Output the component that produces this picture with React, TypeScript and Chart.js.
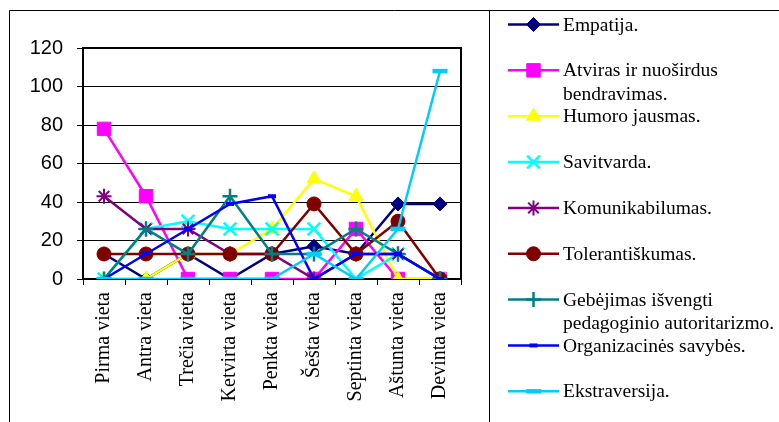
import React, { useEffect, useRef } from "react";
import { Chart, registerables } from "chart.js";
import { drawPoint } from "chart.js/helpers";

Chart.register(...registerables);

const categories = [
  "Pirma vieta",
  "Antra vieta",
  "Trečia vieta",
  "Ketvirta vieta",
  "Penkta vieta",
  "Šešta vieta",
  "Septinta vieta",
  "Aštunta vieta",
  "Devinta vieta",
];

const empatija = [13, 0, 13, 0, 13, 17, 13, 39, 39];
const atviras = [78, 43, 0, 0, 0, 0, 26, 0, 0];
const humoro = [0, 0, 13, 13, 26, 52, 43, 0, 0];
const savitvarda = [0, 26, 30, 26, 26, 26, 0, 13, 0];
const komunikabilumas = [43, 26, 26, 13, 13, 0, 13, 13, 0];
const tolerantiskumas = [13, 13, 13, 13, 13, 39, 13, 30, 0];
const gebejimas = [0, 26, 13, 43, 13, 13, 26, 13, 0];
const organizacines = [0, 13, 26, 39, 43, 0, 13, 13, 0];
const ekstraversija = [0, 0, 0, 0, 0, 13, 0, 26, 108];

const seriesLabels = [
  ["Empatija."],
  ["Atviras ir nuoširdus", "bendravimas."],
  ["Humoro jausmas."],
  ["Savitvarda."],
  ["Komunikabilumas."],
  ["Tolerantiškumas."],
  ["Gebėjimas išvengti", "pedagoginio autoritarizmo."],
  ["Organizacinės savybės."],
  ["Ekstraversija."],
];

const yTicks = [0, 20, 40, 60, 80, 100, 120];

const seriesValues = [
  empatija,
  atviras,
  humoro,
  savitvarda,
  komunikabilumas,
  tolerantiskumas,
  gebejimas,
  organizacines,
  ekstraversija,
];

const styles = [
  { color: "#000080", point: "rectRot", radius: 7, pbw: 1 },
  { color: "#FF00FF", point: "rect", radius: 9.5, pbw: 1 },
  { color: "#FFFF00", point: "triangle", radius: 8, pbw: 1 },
  { color: "#00FFFF", point: "crossRot", radius: 9, pbw: 2.5 },
  { color: "#800080", point: "star", radius: 7.5, pbw: 2 },
  { color: "#800000", point: "circle", radius: 7, pbw: 1 },
  { color: "#008080", point: "cross", radius: 7.5, pbw: 2.5 },
  { color: "#0000FF", point: "line", radius: 4, pbw: 4 },
  { color: "#00CCFF", point: "line", radius: 7.5, pbw: 4.5 },
];

const W = 779;
const H = 422;
const AREA = { left: 83, right: 461, top: 48, bottom: 279 };

const framePlugin = {
  id: "frame",
  beforeDraw(chart: any) {
    const ctx = chart.ctx;
    ctx.save();
    ctx.fillStyle = "#fff";
    ctx.fillRect(0, 0, W, H);
    ctx.strokeStyle = "#000";
    ctx.lineWidth = 1;
    ctx.beginPath();
    ctx.moveTo(9.5, H);
    ctx.lineTo(9.5, 10.5);
    ctx.lineTo(W, 10.5);
    ctx.moveTo(489.5, 10.5);
    ctx.lineTo(489.5, H);
    ctx.stroke();
    ctx.restore();
  },
  beforeDatasetsDraw(chart: any) {
    const { ctx, chartArea } = chart;
    ctx.save();
    ctx.strokeStyle = "#000";
    ctx.lineWidth = 2;
    ctx.strokeRect(
      chartArea.left,
      chartArea.top,
      chartArea.right - chartArea.left,
      chartArea.bottom - chartArea.top
    );
    ctx.restore();
  },
  afterDraw(chart: any) {
    const ctx = chart.ctx;
    ctx.save();
    chart.data.datasets.forEach((ds: any, i: number) => {
      const y = 24.5 + i * 45.85;
      ctx.strokeStyle = ds.borderColor;
      ctx.lineWidth = 2.5;
      ctx.beginPath();
      ctx.moveTo(508, y);
      ctx.lineTo(559, y);
      ctx.stroke();
      ctx.fillStyle = ds.pointBackgroundColor;
      ctx.strokeStyle = ds.pointBorderColor;
      ctx.lineWidth = ds.pointBorderWidth;
      drawPoint(
        ctx,
        {
          pointStyle: ds.pointStyle,
          rotation: 0,
          radius: ds.pointRadius,
          borderWidth: ds.pointBorderWidth,
        } as any,
        533.5,
        y
      );
      ctx.fillStyle = "#000";
      ctx.font = "19.5px 'Liberation Serif', 'Times New Roman', serif";
      ctx.textAlign = "left";
      ctx.textBaseline = "middle";
      ds.legendLines.forEach((line: string, j: number) => {
        ctx.fillText(line, 563, y + 1 + j * 23.6);
      });
    });
    ctx.restore();
  },
};

export default function App() {
  const ref = useRef<HTMLCanvasElement>(null);

  useEffect(() => {
    document.body.style.margin = "0";
    const canvas = ref.current;
    if (!canvas) return;
    const datasets = seriesValues.map((vals, i) => {
      const s = styles[i];
      return {
        label: seriesLabels[i].join(" "),
        legendLines: seriesLabels[i],
        data: vals,
        borderColor: s.color,
        backgroundColor: s.color,
        borderWidth: 2.5,
        pointStyle: s.point,
        pointRadius: s.radius,
        pointBorderWidth: s.pbw,
        pointBackgroundColor: s.color,
        pointBorderColor: s.color,
        tension: 0,
        fill: false,
        order: seriesValues.length - 1 - i,
      };
    });

    const chart = new Chart(canvas, {
      type: "line",
      data: { labels: categories, datasets: datasets as any },
      plugins: [framePlugin],
      options: {
        animation: false,
        responsive: false,
        events: [],
        layout: {
          padding: { left: 0, right: W - AREA.right, top: AREA.top, bottom: 0 },
        },
        plugins: {
          legend: { display: false },
          tooltip: { enabled: false },
          title: { display: false },
        },
        scales: {
          x: {
            type: "category",
            offset: true,
            grid: {
              offset: true,
              drawOnChartArea: false,
              drawTicks: true,
              tickLength: 6,
              color: "#000",
              lineWidth: 1,
            },
            border: { display: true, color: "#000", width: 2 },
            ticks: {
              maxRotation: 90,
              minRotation: 90,
              autoSkip: false,
              padding: 7,
              color: "#000",
              font: { family: "'Liberation Serif', 'Times New Roman', serif", size: 20 },
            },
            afterFit: (scale: any) => {
              scale.height = H - AREA.bottom;
            },
          },
          y: {
            min: 0,
            max: 120,
            afterBuildTicks: (scale: any) => {
              scale.ticks = yTicks.map((v) => ({ value: v }));
            },
            grid: {
              drawOnChartArea: true,
              drawTicks: true,
              tickLength: 6,
              color: "#000",
              lineWidth: 1,
            },
            border: { display: true, color: "#000", width: 2 },
            ticks: {
              padding: 14,
              color: "#000",
              font: { family: "'Liberation Sans', Arial, sans-serif", size: 20 },
            },
            afterFit: (scale: any) => {
              scale.width = AREA.left;
            },
          },
        },
      } as any,
    });
    return () => chart.destroy();
  }, []);

  return (
    <div style={{ width: W, height: H }}>
      <canvas ref={ref} width={W} height={H} style={{ display: "block" }} />
    </div>
  );
}
